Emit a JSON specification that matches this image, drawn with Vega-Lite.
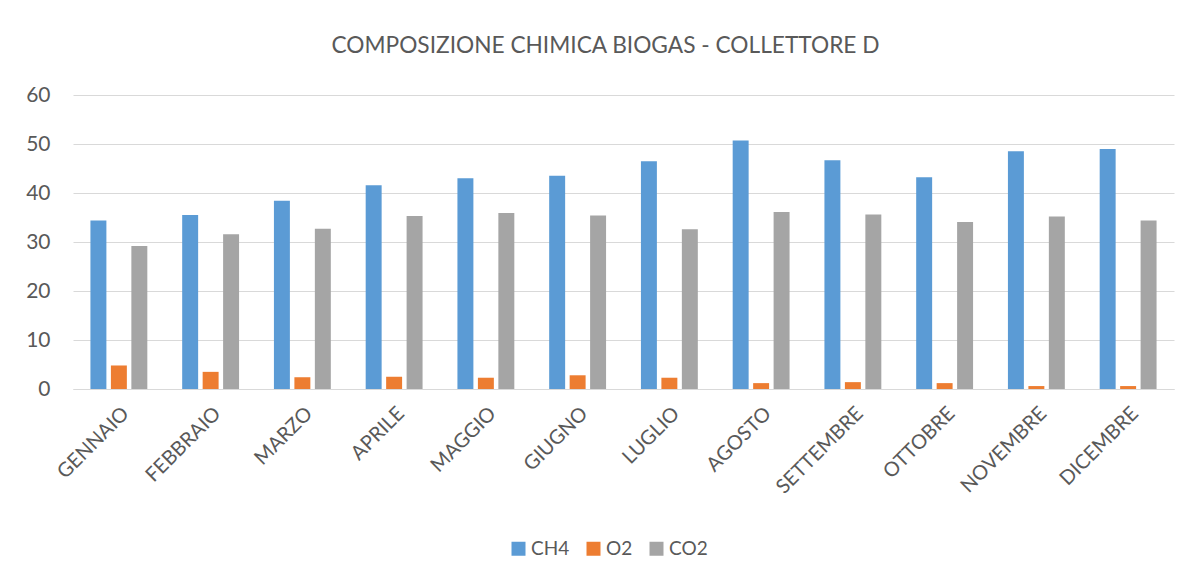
{
  "$schema": "https://vega.github.io/schema/vega-lite/v6.json",
  "autosize": {"type": "none"},
  "width": 1101,
  "height": 294,
  "padding": {"left": 73, "top": 95, "right": 14, "bottom": 188},
  "background": "white",
  "title": {
    "text": "COMPOSIZIONE CHIMICA BIOGAS - COLLETTORE D",
    "fontSize": 22.7,
    "font": "Lato",
    "fontWeight": "normal",
    "color": "#595959",
    "anchor": "middle",
    "offset": 26,
    "dx": -18
  },
  "data": {
    "values": [
      {"mese": "GENNAIO", "gas": "CH4", "valore": 34.4},
      {"mese": "GENNAIO", "gas": "O2", "valore": 4.8},
      {"mese": "GENNAIO", "gas": "CO2", "valore": 29.2},
      {"mese": "FEBBRAIO", "gas": "CH4", "valore": 35.5},
      {"mese": "FEBBRAIO", "gas": "O2", "valore": 3.5},
      {"mese": "FEBBRAIO", "gas": "CO2", "valore": 31.6},
      {"mese": "MARZO", "gas": "CH4", "valore": 38.4},
      {"mese": "MARZO", "gas": "O2", "valore": 2.4},
      {"mese": "MARZO", "gas": "CO2", "valore": 32.7},
      {"mese": "APRILE", "gas": "CH4", "valore": 41.6},
      {"mese": "APRILE", "gas": "O2", "valore": 2.5},
      {"mese": "APRILE", "gas": "CO2", "valore": 35.3},
      {"mese": "MAGGIO", "gas": "CH4", "valore": 43.0},
      {"mese": "MAGGIO", "gas": "O2", "valore": 2.3},
      {"mese": "MAGGIO", "gas": "CO2", "valore": 35.9},
      {"mese": "GIUGNO", "gas": "CH4", "valore": 43.5},
      {"mese": "GIUGNO", "gas": "O2", "valore": 2.8},
      {"mese": "GIUGNO", "gas": "CO2", "valore": 35.4},
      {"mese": "LUGLIO", "gas": "CH4", "valore": 46.5},
      {"mese": "LUGLIO", "gas": "O2", "valore": 2.3},
      {"mese": "LUGLIO", "gas": "CO2", "valore": 32.6},
      {"mese": "AGOSTO", "gas": "CH4", "valore": 50.7},
      {"mese": "AGOSTO", "gas": "O2", "valore": 1.2},
      {"mese": "AGOSTO", "gas": "CO2", "valore": 36.1},
      {"mese": "SETTEMBRE", "gas": "CH4", "valore": 46.7},
      {"mese": "SETTEMBRE", "gas": "O2", "valore": 1.4},
      {"mese": "SETTEMBRE", "gas": "CO2", "valore": 35.6},
      {"mese": "OTTOBRE", "gas": "CH4", "valore": 43.2},
      {"mese": "OTTOBRE", "gas": "O2", "valore": 1.2},
      {"mese": "OTTOBRE", "gas": "CO2", "valore": 34.1},
      {"mese": "NOVEMBRE", "gas": "CH4", "valore": 48.5},
      {"mese": "NOVEMBRE", "gas": "O2", "valore": 0.6},
      {"mese": "NOVEMBRE", "gas": "CO2", "valore": 35.2},
      {"mese": "DICEMBRE", "gas": "CH4", "valore": 49.0},
      {"mese": "DICEMBRE", "gas": "O2", "valore": 0.6},
      {"mese": "DICEMBRE", "gas": "CO2", "valore": 34.4}
    ]
  },
  "mark": {"type": "bar"},
  "encoding": {
    "x": {
      "field": "mese",
      "type": "nominal",
      "sort": null,
      "scale": {"paddingInner": 0.38, "paddingOuter": 0.19},
      "axis": {
        "title": null,
        "labelAngle": -45,
        "labelFontSize": 20,
        "labelFont": "Lato",
        "labelColor": "#595959",
        "ticks": false,
        "domainColor": "#d9d9d9",
        "labelPadding": 14
      }
    },
    "xOffset": {
      "field": "gas",
      "type": "nominal",
      "sort": ["CH4", "O2", "CO2"],
      "scale": {"paddingInner": 0.22}
    },
    "y": {
      "field": "valore",
      "type": "quantitative",
      "scale": {"domain": [0, 60]},
      "axis": {
        "title": null,
        "values": [0, 10, 20, 30, 40, 50, 60],
        "labelFontSize": 21,
        "labelFont": "Lato",
        "labelColor": "#595959",
        "ticks": false,
        "domain": false,
        "gridColor": "#d9d9d9",
        "labelPadding": 23
      }
    },
    "color": {
      "field": "gas",
      "type": "nominal",
      "sort": ["CH4", "O2", "CO2"],
      "scale": {"domain": ["CH4", "O2", "CO2"], "range": ["#5b9bd5", "#ed7d31", "#a5a5a5"]},
      "legend": {
        "title": null,
        "orient": "none",
        "direction": "horizontal",
        "legendX": 436,
        "legendY": 444,
        "symbolType": "square",
        "symbolSize": 196,
        "symbolStrokeWidth": 0,
        "labelFontSize": 19,
        "labelFont": "Lato",
        "labelColor": "#595959",
        "columnPadding": 14,
        "labelOffset": 3
      }
    }
  },
  "config": {
    "view": {"stroke": null}
  }
}
